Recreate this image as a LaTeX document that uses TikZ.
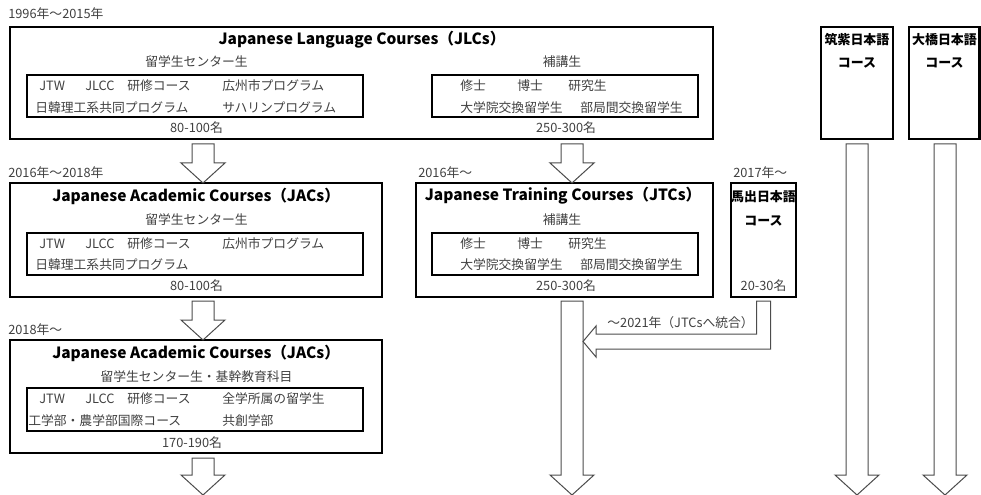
\documentclass[tikz,border=0pt]{standalone}
\usepackage{fontspec}
\setmainfont{Noto Sans CJK JP}
\usetikzlibrary{calc,fit}
\tikzset{
  outerbox/.style={draw=black, line width=1.6pt, inner sep=0pt},
  innerbox/.style={draw=black, line width=1.4pt, inner sep=0pt},
  txt/.style={inner sep=0pt, text=black!75, font=\fontsize{9.6}{11}\selectfont},
  ttl/.style={inner sep=0pt, text=black, font=\fontsize{11.6}{13}\selectfont\bfseries},
  btxt/.style={inner sep=0pt, text=black, font=\fontsize{9.7}{11}\selectfont\bfseries},
  blockarr/.style={draw=black!70, line width=0.75pt, fill=white, line join=miter},
}
\newcommand\blockdown[2]{%
  \draw[blockarr] ($(#1)+(-11,0)$) -- ($(#2)+(-11,-20)$) -- ($(#2)+(-22,-20)$) -- (#2)
    -- ($(#2)+(22,-20)$) -- ($(#2)+(11,-20)$) -- ($(#1)+(11,0)$) -- cycle;}
\begin{document}
\begin{tikzpicture}[x=0.75pt,y=-0.75pt]
\useasboundingbox (0,0) rectangle (981,495);

% ---------- Box 1: JLCs ----------
\node[txt, anchor=west] (d1) at (8,14) {1996年～2015年};
\node[outerbox, fit={(10,27) (713,139)}] (b1) {};
\node[ttl] (t1) at (362,40) {Japanese Language Courses（JLCs）};
\node[txt] (s1a) at (196.5,62) {留学生センター生};
\node[innerbox, fit={(27,75) (363,117)}] (i1a) {};
\node[txt, anchor=west] (r1a1) at (39,86) {JTW};
\node[txt, anchor=west] (r1a2) at (85,86) {JLCC};
\node[txt, anchor=west] (r1a3) at (127,86) {研修コース};
\node[txt, anchor=west] (r1a4) at (222,86) {広州市プログラム};
\node[txt, anchor=west] (r1a5) at (35,108) {日韓理工系共同プログラム};
\node[txt, anchor=west] (r1a6) at (222,108) {サハリンプログラム};
\node[txt] (c1a) at (196.5,128) {80-100名};
\node[txt] (s1b) at (562,62) {補講生};
\node[innerbox, fit={(432,75) (698,117)}] (i1b) {};
\node[txt, anchor=west] (r1b1) at (460,86) {修士};
\node[txt, anchor=west] (r1b2) at (517,86) {博士};
\node[txt, anchor=west] (r1b3) at (568,86) {研究生};
\node[txt, anchor=west] (r1b4) at (460,108) {大学院交換留学生};
\node[txt, anchor=west] (r1b5) at (580,108) {部局間交換留学生};
\node[txt] (c1b) at (566,128) {250-300名};

% ---------- Box 2: JACs 2016-2018 ----------
\node[txt, anchor=west] (d2) at (8,173) {2016年～2018年};
\node[outerbox, fit={(10,183) (382,297)}] (b2) {};
\node[ttl] (t2) at (196,196) {Japanese Academic Courses（JACs）};
\node[txt] (s2) at (196.5,220) {留学生センター生};
\node[innerbox, fit={(27,233) (363,275)}] (i2) {};
\node[txt, anchor=west] (r21) at (39,244) {JTW};
\node[txt, anchor=west] (r22) at (85,244) {JLCC};
\node[txt, anchor=west] (r23) at (127,244) {研修コース};
\node[txt, anchor=west] (r24) at (222,244) {広州市プログラム};
\node[txt, anchor=west] (r25) at (35,265) {日韓理工系共同プログラム};
\node[txt] (c2) at (196.5,286) {80-100名};

% ---------- Box 3: JTCs ----------
\node[txt, anchor=west] (d3) at (418,173) {2016年～};
\node[outerbox, fit={(416,183) (713,297)}] (b3) {};
\node[ttl] (t3) at (563,196) {Japanese Training Courses（JTCs）};
\node[txt] (s3) at (562,220) {補講生};
\node[innerbox, fit={(432,233) (698,275)}] (i3) {};
\node[txt, anchor=west] (r31) at (460,244) {修士};
\node[txt, anchor=west] (r32) at (517,244) {博士};
\node[txt, anchor=west] (r33) at (568,244) {研究生};
\node[txt, anchor=west] (r34) at (460,265) {大学院交換留学生};
\node[txt, anchor=west] (r35) at (580,265) {部局間交換留学生};
\node[txt] (c3) at (566,286) {250-300名};

% ---------- Box 4: 馬出 ----------
\node[txt, anchor=west] (d4) at (733,173) {2017年～};
\node[outerbox, fit={(731,183) (796,297)}] (b4) {};
\node[btxt] (t4a) at (763.5,197) {馬出日本語};
\node[btxt] (t4b) at (763.5,221) {コース};
\node[txt] (c4) at (763.5,286) {20-30名};

% ---------- Box 5: JACs 2018- ----------
\node[txt, anchor=west] (d5) at (8,330) {2018年～};
\node[outerbox, fit={(10,340) (382,453)}] (b5) {};
\node[ttl] (t5) at (196,353) {Japanese Academic Courses（JACs）};
\node[txt] (s5) at (196.5,377) {留学生センター生・基幹教育科目};
\node[innerbox, fit={(27,388) (363,431)}] (i5) {};
\node[txt, anchor=west] (r51) at (39,399) {JTW};
\node[txt, anchor=west] (r52) at (85,399) {JLCC};
\node[txt, anchor=west] (r53) at (127,399) {研修コース};
\node[txt, anchor=west] (r54) at (222,399) {全学所属の留学生};
\node[txt, anchor=west] (r55) at (28,421) {工学部・農学部国際コース};
\node[txt, anchor=west] (r56) at (222,421) {共創学部};
\node[txt] (c5) at (192,443) {170-190名};

% ---------- Right boxes ----------
\node[outerbox, fit={(821,27) (893,139)}] (b6) {};
\node[btxt] (t6a) at (857,40) {筑紫日本語};
\node[btxt] (t6b) at (857,63) {コース};
\node[outerbox, fit={(909,27) (979.5,139)}] (b7) {};
\node[btxt] (t7a) at (944.5,40) {大橋日本語};
\node[btxt] (t7b) at (944.5,63) {コース};

% ---------- Arrows ----------
\coordinate (a1s) at (203,144);  \coordinate (a1e) at (203,183);
\coordinate (a2s) at (572,144);  \coordinate (a2e) at (572,183);
\coordinate (a3s) at (203,301);  \coordinate (a3e) at (203,340);
\coordinate (a4s) at (203,458);  \coordinate (a4e) at (203,495);
\coordinate (a5s) at (572,301);  \coordinate (a5e) at (572,495);
\coordinate (a6s) at (857,144);  \coordinate (a6e) at (857,495);
\coordinate (a7s) at (945,144);  \coordinate (a7e) at (945,495);
\blockdown{a1s}{a1e}
\blockdown{a2s}{a2e}
\blockdown{a3s}{a3e}
\blockdown{a4s}{a4e}
\blockdown{a5s}{a5e}
\blockdown{a6s}{a6e}
\blockdown{a7s}{a7e}

% bent arrow from 馬出 to JTCs
\coordinate (m1) at (763.5,301);
\coordinate (m2) at (583,341.5);
\draw[blockarr] ($(m1)+(-7,0)$) -- ($(m1)+(-7,33)$) -- ($(m2)+(13,-7.5)$) -- ($(m2)+(13,-15.5)$)
  -- (m2) -- ($(m2)+(13,15.5)$) -- ($(m2)+(13,7.5)$) -- ($(m1)+(7,48)$) -- ($(m1)+(7,0)$) -- cycle;
\node[txt, anchor=east] (lab) at (754,323) {～2021年（JTCsへ統合）};
\end{tikzpicture}
\end{document}
